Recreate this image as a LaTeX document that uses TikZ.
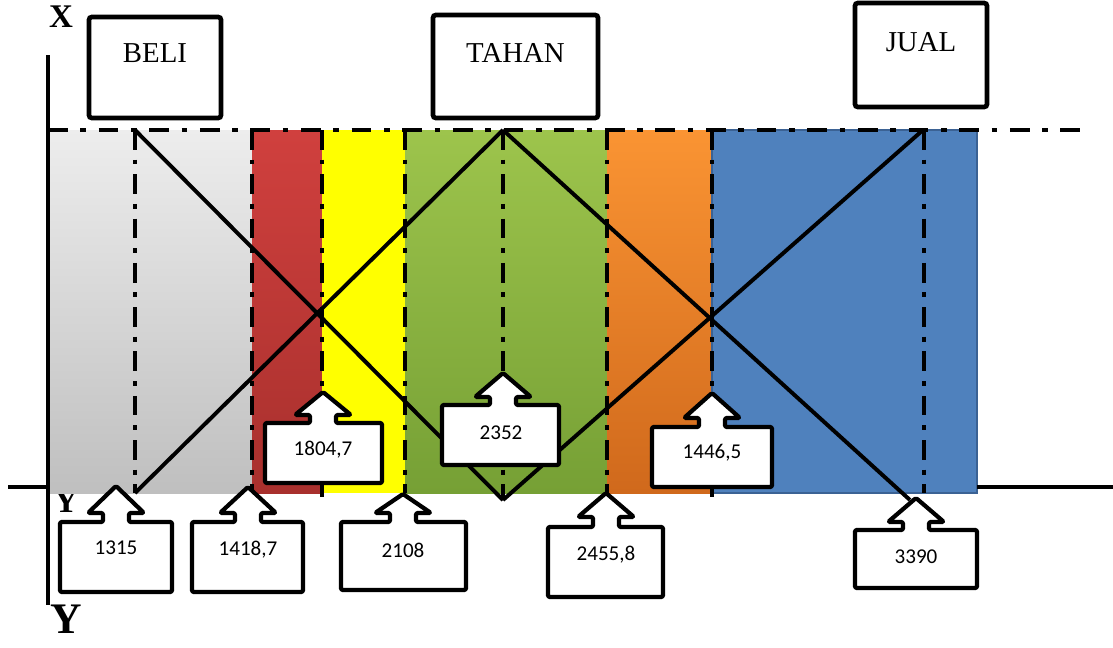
\documentclass[tikz,border=0pt]{standalone}
\usepackage{fontspec}
\setmainfont{Liberation Serif}
\newfontfamily\numfont{Carlito}
\usepackage{xcolor}

\definecolor{greytop}{HTML}{EDEDED}
\definecolor{greybot}{HTML}{BFBFBF}
\definecolor{redtop}{HTML}{D0403E}
\definecolor{redbot}{HTML}{A8302D}
\definecolor{yel}{HTML}{FFFF00}
\definecolor{greentop}{HTML}{9DC44C}
\definecolor{greenbot}{HTML}{76A035}
\definecolor{orangetop}{HTML}{FA9433}
\definecolor{orangebot}{HTML}{D0691C}
\definecolor{bluefill}{HTML}{4F81BD}
\definecolor{blueedge}{HTML}{3B6294}

\tikzset{
  ddline/.style={line width=3pt, dash pattern=on 14pt off 7pt on 3.5pt off 7pt},
  topline/.style={line width=3pt, dash pattern=on 14pt off 9pt on 4pt off 9pt},
  diag/.style={line width=2.8pt},
  axis/.style={line width=2.8pt},
  callout/.style={fill=white, draw=black, line width=3pt, rounded corners=1pt, line join=round},
  topbox/.style={draw, fill=white, line width=3.3pt, rounded corners=2pt, inner sep=0pt},
  toplab/.style={font=\fontsize{20.5}{24}\selectfont},
  numlab/.style={font=\numfont\fontsize{15}{18}\selectfont},
  axlab/.style={font=\bfseries\fontsize{#1}{#1}\selectfont, inner sep=0pt}
}

% up-arrow callout: cx, left, right, box top, box bottom, head base, tip
\newcommand{\upcall}[7]{%
  \filldraw[callout] (#2,#4) -- ({#1-13},#4) -- ({#1-13},#6) -- ({#1-28},#6)
    -- (#1,#7) -- ({#1+28},#6) -- ({#1+13},#6) -- ({#1+13},#4) -- (#3,#4)
    -- (#3,#5) -- (#2,#5) -- cycle;}

\begin{document}
\begin{tikzpicture}[x=0.025cm, y=-0.025cm]
  \useasboundingbox (0,0) rectangle (1113,647);

  % small axis label, partly under the bands
  \node (ylow) [axlab=24] at (66,501) {Y};

  % bands
  \shade[top color=greytop, bottom color=greybot] (48,130) rectangle (252,493);
  \shade[top color=redtop, bottom color=redbot] (252,130) rectangle (322,493);
  \fill[yel] (322,130) rectangle (405,493);
  \shade[top color=greentop, bottom color=greenbot] (405,130) rectangle (607,493);
  \shade[top color=orangetop, bottom color=orangebot] (607,130) rectangle (712,493);
  \filldraw[fill=bluefill, draw=blueedge, line width=1pt] (712,130) rectangle (977,493);

  % axes
  \coordinate (axtop) at (48,55);
  \coordinate (axbot) at (48,605);
  \coordinate (hl) at (8,487);
  \coordinate (hm) at (48,487);
  \coordinate (hr1) at (977,487);
  \coordinate (hr2) at (1113,487);
  \draw[axis] (axtop) -- (axbot);
  \draw[axis] (hl) -- (hm);
  \draw[axis] (hr1) -- (hr2);

  % value lines
  \draw[ddline] (135,130) -- (135,493);
  \draw[ddline] (252,130) -- (252,493);
  \draw[ddline] (322,130) -- (322,497);
  \draw[ddline] (405,130) -- (405,493);
  \draw[ddline] (503,130) -- (503,500);
  \draw[ddline] (607,130) -- (607,493);
  \draw[ddline] (712,130) -- (712,497);
  \draw[ddline] (924,130) -- (924,493);

  % top line
  \coordinate (tl) at (48,130);
  \coordinate (tr) at (1092,130);
  \draw[topline] (tl) -- (tr);

  % membership lines
  \coordinate (beliTop) at (135,130);
  \coordinate (beliLow) at (135,493);
  \coordinate (tahanTop) at (503,130);
  \coordinate (tahanLow) at (503,500);
  \coordinate (jualTop) at (923,130);
  \coordinate (jualLow) at (910,500);
  \draw[diag] (beliTop) -- (tahanLow);
  \draw[diag] (beliLow) -- (tahanTop);
  \draw[diag] (tahanTop) -- (jualLow);
  \draw[diag] (tahanLow) -- (jualTop);

  % callouts
  \upcall{116}{60}{172}{522}{592}{513}{486}
  \node (v1315) [numlab] at (116,548) {1315};
  \upcall{248}{192}{303}{522}{592}{513}{487}
  \node (v1418) [numlab] at (248,550) {1418,7};
  \upcall{403}{341}{466}{522}{590}{513}{494}
  \node (v2108) [numlab] at (403,550) {2108};
  \upcall{323}{265}{382}{423}{483}{415}{392}
  \node (v1804) [numlab] at (323,450) {1804,7};
  \upcall{503}{442}{559}{405}{465}{397}{373}
  \node (v2352) [numlab] at (501,433) {2352};
  \upcall{712}{652}{772}{427}{487}{418}{393}
  \node (v1446) [numlab] at (712,453) {1446,5};
  \upcall{606}{548}{663}{527}{597}{517}{493}
  \node (v2455) [numlab] at (606,555) {2455,8};
  \upcall{916}{855}{977}{530}{588}{522}{498}
  \node (v3390) [numlab] at (916,557) {3390};

  % top labels
  \node (beli) [topbox, minimum width=3.3cm, minimum height=2.525cm] at (155,67.5) {};
  \node (beliLab) [toplab] at (155,53) {BELI};
  \node (tahan) [topbox, minimum width=4.125cm, minimum height=2.575cm] at (515.5,66.5) {};
  \node (tahanLab) [toplab] at (515.5,53) {TAHAN};
  \node (jual) [topbox, minimum width=3.3cm, minimum height=2.6cm] at (921,55) {};
  \node (jualLab) [toplab] at (921,42) {JUAL};

  % axis labels
  \node (xlab) [axlab=23.5] at (61,17) {X};
  \node (ylab) [axlab=31] at (66,619) {Y};
\end{tikzpicture}
\end{document}
